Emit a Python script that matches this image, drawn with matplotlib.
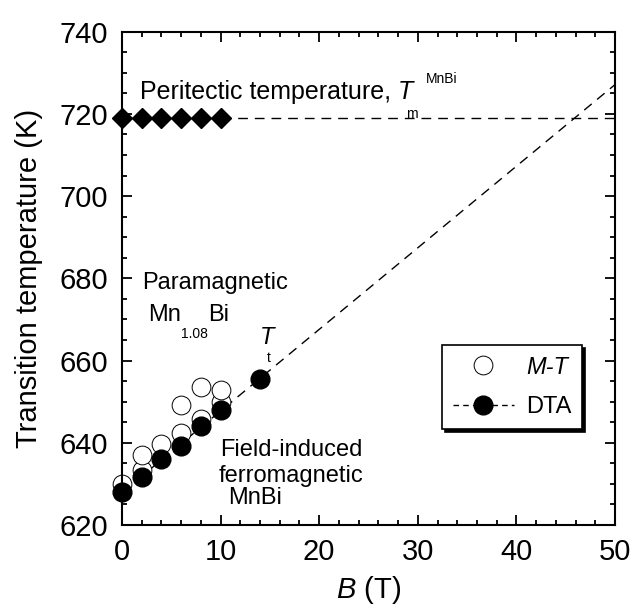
import numpy as np
import matplotlib
matplotlib.use("Agg")
import matplotlib.pyplot as plt
from matplotlib.ticker import MultipleLocator

plt.rcParams['font.family'] = ['Liberation Sans', 'DejaVu Sans']
plt.rcParams['mathtext.fontset'] = 'custom'
plt.rcParams['mathtext.rm'] = 'Liberation Sans'
plt.rcParams['mathtext.it'] = 'Liberation Sans:italic'

# DTA transition points (filled circles)
b_dta = [0, 2, 4, 6, 8, 10, 14]
t_dta = [628, 631.7, 636, 639.2, 644.1, 648, 655.5]

# M-T transition points (open circles)
b_mt = [0, 2, 2, 4, 6, 6, 8, 8, 10, 10]
t_mt = [630, 633.5, 637, 639.6, 642.3, 649.2, 645.7, 653.6, 650, 652.8]

# peritectic temperature of MnBi (diamonds)
b_peri = [0, 2, 4, 6, 8, 10]
t_peri = [719, 719, 719, 719, 719, 719]

fig = plt.figure(figsize=(6.34, 6.08), dpi=100)
ax = fig.add_axes([0.1924, 0.1365, 0.7776, 0.8115])

# linear fit of the DTA points, extended over the whole field range
k, c = np.polyfit(b_dta, t_dta, 1)
b_fit = np.array([0, 52])
ax.plot(b_fit, k * b_fit + c, color='k', lw=1.0, dashes=(7, 5), zorder=1)

# horizontal line at the peritectic temperature
ax.plot([b_peri[-1], 50], [t_peri[-1], t_peri[-1]], color='k', lw=1.0,
        dashes=(7, 5), zorder=1)
ax.plot(b_peri, t_peri, 'D', color='k', ms=10, zorder=3, clip_on=False)

ax.plot(b_mt, t_mt, 'o', mfc='white', mec='k', mew=0.7, ms=13.5,
        zorder=2, clip_on=False, label='M-T')
ax.plot(b_dta, t_dta, 'o', color='k', ms=13.5, zorder=4, clip_on=False)
# proxy artist for the legend entry of the DTA line
ax.plot([], [], 'o', color='k', ms=13.5, ls='--', lw=1.0, dashes=(4, 3),
        label='DTA')

ax.set_xlim(0, 50)
ax.set_ylim(620, 740)
ax.xaxis.set_major_locator(MultipleLocator(10))
ax.xaxis.set_minor_locator(MultipleLocator(2))
ax.yaxis.set_major_locator(MultipleLocator(20))
ax.yaxis.set_minor_locator(MultipleLocator(5))
ax.tick_params(which='both', direction='in', top=True, right=True,
               width=1.3, labelsize=21)
ax.tick_params(which='major', length=7)
ax.tick_params(which='minor', length=3.6)
ax.tick_params(axis='y', pad=10)
ax.tick_params(axis='x', pad=9)
for sp in ax.spines.values():
    sp.set_linewidth(1.5)

ax.set_xlabel(r'$B$ (T)', fontsize=21, labelpad=6)
ax.set_ylabel('Transition temperature (K)', fontsize=21, labelpad=12)

fs = 17
sub = 10

# peritectic label with T_m^MnBi
t1 = ax.text(1.84, 725.2, 'Peritectic temperature, ', fontsize=18,
             va='center', ha='left')
tT = ax.annotate('T', xy=(1, 0.5), xycoords=t1, va='center', ha='left',
                 fontsize=18, fontstyle='italic')
ax.annotate('m', xy=(0.55, 0), xycoords=tT, va='top', ha='left',
            fontsize=sub, xytext=(0, -2), textcoords='offset points')
ax.annotate('MnBi', xy=(1, 1), xycoords=tT, va='center', ha='left',
            fontsize=sub, xytext=(9, 1), textcoords='offset points')

# paramagnetic Mn1.08Bi
ax.text(2.0, 678.8, 'Paramagnetic', fontsize=fs, va='center', ha='left')
tm = ax.text(2.67, 671.1, 'Mn', fontsize=fs, va='center', ha='left')
ts = ax.annotate('1.08', xy=(1, 0), xycoords=tm, va='top', ha='left',
                 fontsize=sub, xytext=(0, -1), textcoords='offset points')
ax.annotate('Bi', xy=(1, 0.5), xycoords=(ts, tm), va='center', ha='left',
            fontsize=fs)

# T_t label on the DTA line
tt = ax.text(14.0, 665.7, 'T', fontsize=fs, fontstyle='italic',
             va='center', ha='left')
ax.annotate('t', xy=(0.5, 0), xycoords=tt, va='top', ha='left',
            fontsize=sub, xytext=(0, -2), textcoords='offset points')

# field-induced ferromagnetic MnBi
ax.text(9.93, 638.2, 'Field-induced', fontsize=fs, va='center', ha='left')
ax.text(9.76, 631.8, 'ferromagnetic', fontsize=fs, va='center', ha='left')
ax.text(10.8, 626.5, 'MnBi', fontsize=fs, va='center', ha='left')

leg = ax.legend(loc='upper right', bbox_to_anchor=(0.933, 0.365),
                borderaxespad=0, fontsize=fs, frameon=True, fancybox=False,
                edgecolor='k', framealpha=1,
                shadow={'color': 'k', 'alpha': 1},
                handlelength=2.6, handletextpad=0.5, labelspacing=0.75,
                borderpad=0.45)
leg.get_frame().set_linewidth(1.2)
leg.get_texts()[0].set_fontstyle('italic')

fig.savefig('out.png', dpi=100)
